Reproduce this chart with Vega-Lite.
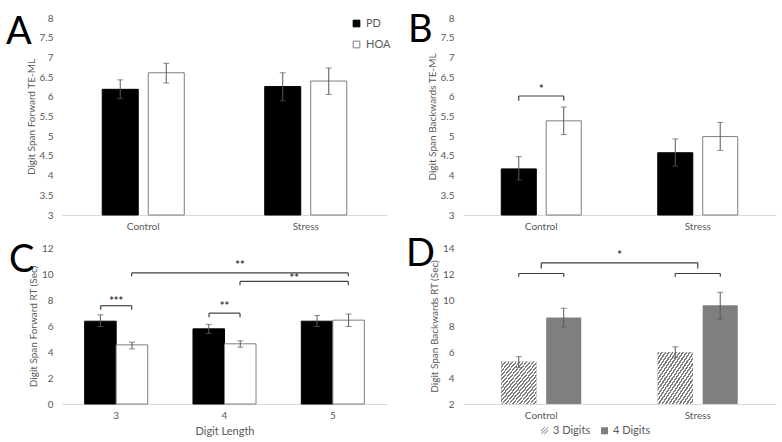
{
  "$schema": "https://vega.github.io/schema/vega-lite/v6.json",
  "padding": {"left": 6, "top": 12, "right": 6, "bottom": 5},
  "columns": 2,
  "spacing": {"row": 33, "column": 76},
  "bounds": "flush",
  "align": "each",
  "resolve": {"scale": {"fill": "independent", "stroke": "independent", "xOffset": "independent"}},
  "datasets": {
    "forwardTE": [
      {"condition": "Control", "group": "PD", "mean": 6.19, "lo": 5.95, "hi": 6.43},
      {"condition": "Control", "group": "HOA", "mean": 6.61, "lo": 6.35, "hi": 6.85},
      {"condition": "Stress", "group": "PD", "mean": 6.26, "lo": 5.9, "hi": 6.61},
      {"condition": "Stress", "group": "HOA", "mean": 6.4, "lo": 6.06, "hi": 6.73}
    ],
    "backwardTE": [
      {"condition": "Control", "group": "PD", "mean": 4.17, "lo": 3.89, "hi": 4.48},
      {"condition": "Control", "group": "HOA", "mean": 5.39, "lo": 5.04, "hi": 5.74},
      {"condition": "Stress", "group": "PD", "mean": 4.58, "lo": 4.24, "hi": 4.93},
      {"condition": "Stress", "group": "HOA", "mean": 4.99, "lo": 4.64, "hi": 5.35}
    ],
    "forwardRT": [
      {"length": "3", "group": "PD", "mean": 6.37, "lo": 5.96, "hi": 6.86},
      {"length": "3", "group": "HOA", "mean": 4.55, "lo": 4.24, "hi": 4.76},
      {"length": "4", "group": "PD", "mean": 5.78, "lo": 5.42, "hi": 6.12},
      {"length": "4", "group": "HOA", "mean": 4.63, "lo": 4.37, "hi": 4.86},
      {"length": "5", "group": "PD", "mean": 6.37, "lo": 5.96, "hi": 6.81},
      {"length": "5", "group": "HOA", "mean": 6.45, "lo": 5.96, "hi": 6.92}
    ],
    "backwardRT": [
      {"condition": "Control", "digits": "3 Digits", "mean": 5.25, "lo": 4.8, "hi": 5.64},
      {"condition": "Control", "digits": "4 Digits", "mean": 8.66, "lo": 7.92, "hi": 9.37},
      {"condition": "Stress", "digits": "3 Digits", "mean": 5.99, "lo": 5.56, "hi": 6.4},
      {"condition": "Stress", "digits": "4 Digits", "mean": 9.6, "lo": 8.53, "hi": 10.59}
    ],
    "bracketsB": [
      {"x1": 0.356, "x2": 0.644, "y": 6.02, "drop": 5.9, "label": "*", "lx": 0.5, "ly": 6.16}
    ],
    "bracketsC": [
      {"x1": 0.357, "x2": 0.643, "y": 7.56, "drop": 7.25, "label": "***", "lx": 0.5, "ly": 7.81},
      {"x1": 1.357, "x2": 1.643, "y": 6.99, "drop": 6.68, "label": "**", "lx": 1.5, "ly": 7.43},
      {"x1": 0.643, "x2": 2.643, "y": 10.08, "drop": 9.82, "label": "**", "lx": 1.643, "ly": 10.59},
      {"x1": 1.643, "x2": 2.643, "y": 9.43, "drop": 9.13, "label": "**", "lx": 2.143, "ly": 9.61}
    ],
    "bracketsD": [
      {"x1": 0.356, "x2": 0.644, "y": 12.04, "drop": 11.79, "label": "", "lx": 0.5, "ly": 12.04},
      {"x1": 1.356, "x2": 1.644, "y": 12.04, "drop": 11.79, "label": "", "lx": 1.5, "ly": 12.04},
      {"x1": 0.5, "x2": 1.5, "y": 12.86, "drop": 12.42, "label": "*", "lx": 1.0, "ly": 13.37}
    ]
  },
  "concat": [
    {
      "width": 325,
      "height": 197,
      "title": {"text": "A", "dx": -56, "dy": 43},
      "data": {"name": "forwardTE"},
      "encoding": {
        "x": {"field": "condition", "type": "nominal", "sort": ["Control", "Stress"], "title": null, "scale": {"paddingInner": 0.495, "paddingOuter": 0.2475}},
        "xOffset": {"field": "group", "type": "nominal", "scale": {"domain": ["PD", "HOA"], "paddingInner": 0.217, "paddingOuter": 0}}
      },
      "layer": [
        {
          "mark": {"type": "bar", "strokeWidth": 1},
          "encoding": {
            "y": {"field": "mean", "type": "quantitative", "scale": {"domain": [3, 8]}, "axis": {"values": [3, 3.5, 4, 4.5, 5, 5.5, 6, 6.5, 7, 7.5, 8], "format": "~g", "labelOverlap": false, "labelSeparation": 0, "title": "Digit Span Forward TE-ML"}},
            "y2": {"datum": 3},
            "fill": {"field": "group", "type": "nominal", "scale": {"domain": ["PD", "HOA"], "range": ["#000000", "#ffffff"]},
              "legend": {"orient": "none", "legendX": 289, "legendY": 0, "title": null, "symbolType": "square", "symbolSize": 45, "labelFontSize": 11, "rowPadding": 9, "symbolStrokeWidth": 1}},
            "stroke": {"field": "group", "type": "nominal", "scale": {"domain": ["PD", "HOA"], "range": ["#000000", "#7f7f7f"]},
              "legend": {"orient": "none", "legendX": 289, "legendY": 0, "title": null, "symbolType": "square", "symbolSize": 45, "labelFontSize": 11, "rowPadding": 9, "symbolStrokeWidth": 1}}
          }
        },
        {
          "mark": {"type": "rule", "color": "#595959", "strokeWidth": 1},
          "encoding": {"y": {"field": "lo", "type": "quantitative", "scale": {"domain": [3, 8]}, "axis": {"values": [3, 3.5, 4, 4.5, 5, 5.5, 6, 6.5, 7, 7.5, 8], "format": "~g", "labelOverlap": false, "labelSeparation": 0, "title": "Digit Span Forward TE-ML"}}, "y2": {"field": "hi"}}
        },
        {
          "mark": {"type": "tick", "color": "#595959", "size": 6, "thickness": 1},
          "encoding": {"y": {"field": "lo", "type": "quantitative", "scale": {"domain": [3, 8]}, "axis": {"values": [3, 3.5, 4, 4.5, 5, 5.5, 6, 6.5, 7, 7.5, 8], "format": "~g", "labelOverlap": false, "labelSeparation": 0, "title": "Digit Span Forward TE-ML"}}}
        },
        {
          "mark": {"type": "tick", "color": "#595959", "size": 6, "thickness": 1},
          "encoding": {"y": {"field": "hi", "type": "quantitative", "scale": {"domain": [3, 8]}, "axis": {"values": [3, 3.5, 4, 4.5, 5, 5.5, 6, 6.5, 7, 7.5, 8], "format": "~g", "labelOverlap": false, "labelSeparation": 0, "title": "Digit Span Forward TE-ML"}}}
        }
      ]
    },
    {
      "width": 313,
      "height": 197,
      "title": {"text": "B", "dx": -55, "dy": 41},
      "resolve": {"scale": {"x": "independent"}},
      "layer": [
        {
          "data": {"name": "backwardTE"},
          "encoding": {
            "x": {"field": "condition", "type": "nominal", "sort": ["Control", "Stress"], "title": null, "scale": {"paddingInner": 0.489, "paddingOuter": 0.2445}},
            "xOffset": {"field": "group", "type": "nominal", "scale": {"domain": ["PD", "HOA"], "paddingInner": 0.22, "paddingOuter": 0}}
          },
          "layer": [
            {
              "mark": {"type": "bar", "strokeWidth": 1},
              "encoding": {
                "y": {"field": "mean", "type": "quantitative", "scale": {"domain": [3, 8]}, "axis": {"values": [3, 3.5, 4, 4.5, 5, 5.5, 6, 6.5, 7, 7.5, 8], "format": "~g", "labelOverlap": false, "labelSeparation": 0, "title": "Digit Span Backwards TE-ML"}},
                "y2": {"datum": 3},
                "fill": {"field": "group", "type": "nominal", "scale": {"domain": ["PD", "HOA"], "range": ["#000000", "#ffffff"]}, "legend": null},
                "stroke": {"field": "group", "type": "nominal", "scale": {"domain": ["PD", "HOA"], "range": ["#000000", "#7f7f7f"]}, "legend": null}
              }
            },
            {
              "mark": {"type": "rule", "color": "#595959", "strokeWidth": 1},
              "encoding": {"y": {"field": "lo", "type": "quantitative", "scale": {"domain": [3, 8]}, "axis": {"values": [3, 3.5, 4, 4.5, 5, 5.5, 6, 6.5, 7, 7.5, 8], "format": "~g", "labelOverlap": false, "labelSeparation": 0, "title": "Digit Span Backwards TE-ML"}}, "y2": {"field": "hi"}}
            },
            {
              "mark": {"type": "tick", "color": "#595959", "size": 6, "thickness": 1},
              "encoding": {"y": {"field": "lo", "type": "quantitative", "scale": {"domain": [3, 8]}, "axis": {"values": [3, 3.5, 4, 4.5, 5, 5.5, 6, 6.5, 7, 7.5, 8], "format": "~g", "labelOverlap": false, "labelSeparation": 0, "title": "Digit Span Backwards TE-ML"}}}
            },
            {
              "mark": {"type": "tick", "color": "#595959", "size": 6, "thickness": 1},
              "encoding": {"y": {"field": "hi", "type": "quantitative", "scale": {"domain": [3, 8]}, "axis": {"values": [3, 3.5, 4, 4.5, 5, 5.5, 6, 6.5, 7, 7.5, 8], "format": "~g", "labelOverlap": false, "labelSeparation": 0, "title": "Digit Span Backwards TE-ML"}}}
            }
          ]
        },
        {
          "data": {"name": "bracketsB"},
          "encoding": {
            "y": {"field": "y", "type": "quantitative", "scale": {"domain": [3, 8]}, "axis": {"values": [3, 3.5, 4, 4.5, 5, 5.5, 6, 6.5, 7, 7.5, 8], "format": "~g", "labelOverlap": false, "labelSeparation": 0, "title": "Digit Span Backwards TE-ML"}}
          },
          "layer": [
            {
              "mark": {"type": "rule", "color": "#404040", "strokeWidth": 1.2},
              "encoding": {
                "x": {"field": "x1", "type": "quantitative", "scale": {"domain": [0, 2], "nice": false, "zero": false}, "axis": null},
                "x2": {"field": "x2"}
              }
            },
            {
              "mark": {"type": "rule", "color": "#404040", "strokeWidth": 1.2},
              "encoding": {
                "x": {"field": "x1", "type": "quantitative", "scale": {"domain": [0, 2], "nice": false, "zero": false}, "axis": null},
                "y2": {"field": "drop"}
              }
            },
            {
              "mark": {"type": "rule", "color": "#404040", "strokeWidth": 1.2},
              "encoding": {
                "x": {"field": "x2", "type": "quantitative", "scale": {"domain": [0, 2], "nice": false, "zero": false}, "axis": null},
                "y2": {"field": "drop"}
              }
            },
            {
              "mark": {"type": "text", "color": "#404040", "fontSize": 11, "fontWeight": "bold", "baseline": "middle"},
              "encoding": {
                "x": {"field": "lx", "type": "quantitative", "scale": {"domain": [0, 2], "nice": false, "zero": false}, "axis": null},
                "y": {"field": "ly", "type": "quantitative", "scale": {"domain": [3, 8]}, "axis": {"values": [3, 3.5, 4, 4.5, 5, 5.5, 6, 6.5, 7, 7.5, 8], "format": "~g", "labelOverlap": false, "labelSeparation": 0, "title": "Digit Span Backwards TE-ML"}},
                "text": {"field": "label"}
              }
            }
          ]
        }
      ]
    },
    {
      "width": 325,
      "height": 156,
      "title": {"text": "C", "dx": -53, "dy": 41},
      "resolve": {"scale": {"x": "independent"}},
      "layer": [
        {
          "data": {"name": "forwardRT"},
          "encoding": {
            "x": {"field": "length", "type": "nominal", "sort": ["3", "4", "5"], "scale": {"paddingInner": 0.418, "paddingOuter": 0.209},
              "axis": {"title": "Digit Length", "titleFontSize": 11, "titlePadding": 5}},
            "xOffset": {"field": "group", "type": "nominal", "scale": {"domain": ["PD", "HOA"], "paddingInner": 0, "paddingOuter": 0}}
          },
          "layer": [
            {
              "mark": {"type": "bar", "strokeWidth": 1},
              "encoding": {
                "y": {"field": "mean", "type": "quantitative", "scale": {"domain": [0, 12]}, "axis": {"values": [0, 2, 4, 6, 8, 10, 12], "labelOverlap": false, "labelSeparation": 0, "title": "Digit Span Forward RT (Sec)"}},
                "y2": {"datum": 0},
                "fill": {"field": "group", "type": "nominal", "scale": {"domain": ["PD", "HOA"], "range": ["#000000", "#ffffff"]}, "legend": null},
                "stroke": {"field": "group", "type": "nominal", "scale": {"domain": ["PD", "HOA"], "range": ["#000000", "#7f7f7f"]}, "legend": null}
              }
            },
            {
              "mark": {"type": "rule", "color": "#595959", "strokeWidth": 1},
              "encoding": {"y": {"field": "lo", "type": "quantitative", "scale": {"domain": [0, 12]}, "axis": {"values": [0, 2, 4, 6, 8, 10, 12], "labelOverlap": false, "labelSeparation": 0, "title": "Digit Span Forward RT (Sec)"}}, "y2": {"field": "hi"}}
            },
            {
              "mark": {"type": "tick", "color": "#595959", "size": 6, "thickness": 1},
              "encoding": {"y": {"field": "lo", "type": "quantitative", "scale": {"domain": [0, 12]}, "axis": {"values": [0, 2, 4, 6, 8, 10, 12], "labelOverlap": false, "labelSeparation": 0, "title": "Digit Span Forward RT (Sec)"}}}
            },
            {
              "mark": {"type": "tick", "color": "#595959", "size": 6, "thickness": 1},
              "encoding": {"y": {"field": "hi", "type": "quantitative", "scale": {"domain": [0, 12]}, "axis": {"values": [0, 2, 4, 6, 8, 10, 12], "labelOverlap": false, "labelSeparation": 0, "title": "Digit Span Forward RT (Sec)"}}}
            }
          ]
        },
        {
          "data": {"name": "bracketsC"},
          "encoding": {
            "y": {"field": "y", "type": "quantitative", "scale": {"domain": [0, 12]}, "axis": {"values": [0, 2, 4, 6, 8, 10, 12], "labelOverlap": false, "labelSeparation": 0, "title": "Digit Span Forward RT (Sec)"}}
          },
          "layer": [
            {
              "mark": {"type": "rule", "color": "#404040", "strokeWidth": 1.2},
              "encoding": {
                "x": {"field": "x1", "type": "quantitative", "scale": {"domain": [0, 3], "nice": false, "zero": false}, "axis": null},
                "x2": {"field": "x2"}
              }
            },
            {
              "mark": {"type": "rule", "color": "#404040", "strokeWidth": 1.2},
              "encoding": {
                "x": {"field": "x1", "type": "quantitative", "scale": {"domain": [0, 3], "nice": false, "zero": false}, "axis": null},
                "y2": {"field": "drop"}
              }
            },
            {
              "mark": {"type": "rule", "color": "#404040", "strokeWidth": 1.2},
              "encoding": {
                "x": {"field": "x2", "type": "quantitative", "scale": {"domain": [0, 3], "nice": false, "zero": false}, "axis": null},
                "y2": {"field": "drop"}
              }
            },
            {
              "mark": {"type": "text", "color": "#404040", "fontSize": 11, "fontWeight": "bold", "baseline": "middle"},
              "encoding": {
                "x": {"field": "lx", "type": "quantitative", "scale": {"domain": [0, 3], "nice": false, "zero": false}, "axis": null},
                "y": {"field": "ly", "type": "quantitative", "scale": {"domain": [0, 12]}, "axis": {"values": [0, 2, 4, 6, 8, 10, 12], "labelOverlap": false, "labelSeparation": 0, "title": "Digit Span Forward RT (Sec)"}},
                "text": {"field": "label"}
              }
            }
          ]
        }
      ]
    },
    {
      "width": 313,
      "height": 156,
      "title": {"text": "D", "dx": -57, "dy": 35},
      "resolve": {"scale": {"x": "independent"}},
      "layer": [
        {
          "data": {"name": "backwardRT"},
          "encoding": {
            "x": {"field": "condition", "type": "nominal", "sort": ["Control", "Stress"], "title": null, "scale": {"paddingInner": 0.489, "paddingOuter": 0.2445}},
            "xOffset": {"field": "digits", "type": "nominal", "scale": {"domain": ["3 Digits", "4 Digits"], "paddingInner": 0.22, "paddingOuter": 0}}
          },
          "layer": [
            {
              "mark": {"type": "bar"},
              "encoding": {
                "y": {"field": "mean", "type": "quantitative", "scale": {"domain": [2, 14]}, "axis": {"values": [2, 4, 6, 8, 10, 12, 14], "labelOverlap": false, "labelSeparation": 0, "title": "Digit Span Backwards RT (Sec)"}},
                "y2": {"datum": 2},
                "fill": {"field": "digits", "type": "nominal", "scale": {"domain": ["3 Digits", "4 Digits"], "range": ["#7f7f7f", "#7f7f7f"]},
                  "legend": {"orient": "none", "legendX": 76, "legendY": 177, "direction": "horizontal", "title": null, "symbolType": "square", "symbolSize": 50, "labelFontSize": 11, "columnPadding": 8, "labelOffset": 3,
                    "encode": {"symbols": {"update": {"shape": {"signal": "datum.value === '3 Digits' ? 'M-1,0.85L0.85,-1L1,-1L1,-0.85L-0.85,1L-1,1Z M-0.25,1L1,-0.25L1,0.05L0.05,1Z M-1,-0.05L-0.05,-1L0.25,-1L-1,0.25Z' : 'square'"}}}}}}
              }
            },
            {
              "transform": [{"filter": "datum.digits === '3 Digits'"}],
              "mark": {
                "type": "bar",
                "fill": {
                  "gradient": "linear", "x1": 0, "y1": 0, "x2": 1, "y2": 1,
                  "stops": [
                    {"offset": 0, "color": "#7f7f7f"},
                    {"offset": 0.025, "color": "#7f7f7f"}, {"offset": 0.025, "color": "#ffffff"},
                    {"offset": 0.05, "color": "#ffffff"}, {"offset": 0.05, "color": "#7f7f7f"},
                    {"offset": 0.075, "color": "#7f7f7f"}, {"offset": 0.075, "color": "#ffffff"},
                    {"offset": 0.1, "color": "#ffffff"}, {"offset": 0.1, "color": "#7f7f7f"},
                    {"offset": 0.125, "color": "#7f7f7f"}, {"offset": 0.125, "color": "#ffffff"},
                    {"offset": 0.15, "color": "#ffffff"}, {"offset": 0.15, "color": "#7f7f7f"},
                    {"offset": 0.175, "color": "#7f7f7f"}, {"offset": 0.175, "color": "#ffffff"},
                    {"offset": 0.2, "color": "#ffffff"}, {"offset": 0.2, "color": "#7f7f7f"},
                    {"offset": 0.225, "color": "#7f7f7f"}, {"offset": 0.225, "color": "#ffffff"},
                    {"offset": 0.25, "color": "#ffffff"}, {"offset": 0.25, "color": "#7f7f7f"},
                    {"offset": 0.275, "color": "#7f7f7f"}, {"offset": 0.275, "color": "#ffffff"},
                    {"offset": 0.3, "color": "#ffffff"}, {"offset": 0.3, "color": "#7f7f7f"},
                    {"offset": 0.325, "color": "#7f7f7f"}, {"offset": 0.325, "color": "#ffffff"},
                    {"offset": 0.35, "color": "#ffffff"}, {"offset": 0.35, "color": "#7f7f7f"},
                    {"offset": 0.375, "color": "#7f7f7f"}, {"offset": 0.375, "color": "#ffffff"},
                    {"offset": 0.4, "color": "#ffffff"}, {"offset": 0.4, "color": "#7f7f7f"},
                    {"offset": 0.425, "color": "#7f7f7f"}, {"offset": 0.425, "color": "#ffffff"},
                    {"offset": 0.45, "color": "#ffffff"}, {"offset": 0.45, "color": "#7f7f7f"},
                    {"offset": 0.475, "color": "#7f7f7f"}, {"offset": 0.475, "color": "#ffffff"},
                    {"offset": 0.5, "color": "#ffffff"}, {"offset": 0.5, "color": "#7f7f7f"},
                    {"offset": 0.525, "color": "#7f7f7f"}, {"offset": 0.525, "color": "#ffffff"},
                    {"offset": 0.55, "color": "#ffffff"}, {"offset": 0.55, "color": "#7f7f7f"},
                    {"offset": 0.575, "color": "#7f7f7f"}, {"offset": 0.575, "color": "#ffffff"},
                    {"offset": 0.6, "color": "#ffffff"}, {"offset": 0.6, "color": "#7f7f7f"},
                    {"offset": 0.625, "color": "#7f7f7f"}, {"offset": 0.625, "color": "#ffffff"},
                    {"offset": 0.65, "color": "#ffffff"}, {"offset": 0.65, "color": "#7f7f7f"},
                    {"offset": 0.675, "color": "#7f7f7f"}, {"offset": 0.675, "color": "#ffffff"},
                    {"offset": 0.7, "color": "#ffffff"}, {"offset": 0.7, "color": "#7f7f7f"},
                    {"offset": 0.725, "color": "#7f7f7f"}, {"offset": 0.725, "color": "#ffffff"},
                    {"offset": 0.75, "color": "#ffffff"}, {"offset": 0.75, "color": "#7f7f7f"},
                    {"offset": 0.775, "color": "#7f7f7f"}, {"offset": 0.775, "color": "#ffffff"},
                    {"offset": 0.8, "color": "#ffffff"}, {"offset": 0.8, "color": "#7f7f7f"},
                    {"offset": 0.825, "color": "#7f7f7f"}, {"offset": 0.825, "color": "#ffffff"},
                    {"offset": 0.85, "color": "#ffffff"}, {"offset": 0.85, "color": "#7f7f7f"},
                    {"offset": 0.875, "color": "#7f7f7f"}, {"offset": 0.875, "color": "#ffffff"},
                    {"offset": 0.9, "color": "#ffffff"}, {"offset": 0.9, "color": "#7f7f7f"},
                    {"offset": 0.925, "color": "#7f7f7f"}, {"offset": 0.925, "color": "#ffffff"},
                    {"offset": 0.95, "color": "#ffffff"}, {"offset": 0.95, "color": "#7f7f7f"},
                    {"offset": 0.975, "color": "#7f7f7f"}, {"offset": 0.975, "color": "#ffffff"},
                    {"offset": 1, "color": "#ffffff"}
                  ]
                }
              },
              "encoding": {
                "y": {"field": "mean", "type": "quantitative", "scale": {"domain": [2, 14]}, "axis": {"values": [2, 4, 6, 8, 10, 12, 14], "labelOverlap": false, "labelSeparation": 0, "title": "Digit Span Backwards RT (Sec)"}},
                "y2": {"datum": 2}
              }
            },
            {
              "mark": {"type": "rule", "color": "#595959", "strokeWidth": 1},
              "encoding": {"y": {"field": "lo", "type": "quantitative", "scale": {"domain": [2, 14]}, "axis": {"values": [2, 4, 6, 8, 10, 12, 14], "labelOverlap": false, "labelSeparation": 0, "title": "Digit Span Backwards RT (Sec)"}}, "y2": {"field": "hi"}}
            },
            {
              "mark": {"type": "tick", "color": "#595959", "size": 6, "thickness": 1},
              "encoding": {"y": {"field": "lo", "type": "quantitative", "scale": {"domain": [2, 14]}, "axis": {"values": [2, 4, 6, 8, 10, 12, 14], "labelOverlap": false, "labelSeparation": 0, "title": "Digit Span Backwards RT (Sec)"}}}
            },
            {
              "mark": {"type": "tick", "color": "#595959", "size": 6, "thickness": 1},
              "encoding": {"y": {"field": "hi", "type": "quantitative", "scale": {"domain": [2, 14]}, "axis": {"values": [2, 4, 6, 8, 10, 12, 14], "labelOverlap": false, "labelSeparation": 0, "title": "Digit Span Backwards RT (Sec)"}}}
            }
          ]
        },
        {
          "data": {"name": "bracketsD"},
          "encoding": {
            "y": {"field": "y", "type": "quantitative", "scale": {"domain": [2, 14]}, "axis": {"values": [2, 4, 6, 8, 10, 12, 14], "labelOverlap": false, "labelSeparation": 0, "title": "Digit Span Backwards RT (Sec)"}}
          },
          "layer": [
            {
              "mark": {"type": "rule", "color": "#404040", "strokeWidth": 1.2},
              "encoding": {
                "x": {"field": "x1", "type": "quantitative", "scale": {"domain": [0, 2], "nice": false, "zero": false}, "axis": null},
                "x2": {"field": "x2"}
              }
            },
            {
              "mark": {"type": "rule", "color": "#404040", "strokeWidth": 1.2},
              "encoding": {
                "x": {"field": "x1", "type": "quantitative", "scale": {"domain": [0, 2], "nice": false, "zero": false}, "axis": null},
                "y2": {"field": "drop"}
              }
            },
            {
              "mark": {"type": "rule", "color": "#404040", "strokeWidth": 1.2},
              "encoding": {
                "x": {"field": "x2", "type": "quantitative", "scale": {"domain": [0, 2], "nice": false, "zero": false}, "axis": null},
                "y2": {"field": "drop"}
              }
            },
            {
              "mark": {"type": "text", "color": "#404040", "fontSize": 11, "fontWeight": "bold", "baseline": "middle"},
              "encoding": {
                "x": {"field": "lx", "type": "quantitative", "scale": {"domain": [0, 2], "nice": false, "zero": false}, "axis": null},
                "y": {"field": "ly", "type": "quantitative", "scale": {"domain": [2, 14]}, "axis": {"values": [2, 4, 6, 8, 10, 12, 14], "labelOverlap": false, "labelSeparation": 0, "title": "Digit Span Backwards RT (Sec)"}},
                "text": {"field": "label"}
              }
            }
          ]
        }
      ]
    }
  ],
  "config": {
    "font": "Lato",
    "view": {"stroke": null},
    "axis": {"grid": false, "ticks": false, "labelColor": "#595959", "titleColor": "#595959", "labelFontSize": 10, "titleFontSize": 10, "titleFontWeight": "normal", "labelFont": "Lato", "titleFont": "Lato"},
    "axisY": {"domain": false, "labelPadding": 9, "titlePadding": 3, "labelOverlap": false},
    "axisX": {"domainColor": "#d9d9d9", "labelPadding": 6, "labelAngle": 0},
    "title": {"fontSize": 38, "fontWeight": "normal", "color": "#000000", "anchor": "start", "frame": "group", "offset": 0, "baseline": "alphabetic", "font": "Lato"},
    "legend": {"labelColor": "#595959", "labelFont": "Lato"}
  }
}
